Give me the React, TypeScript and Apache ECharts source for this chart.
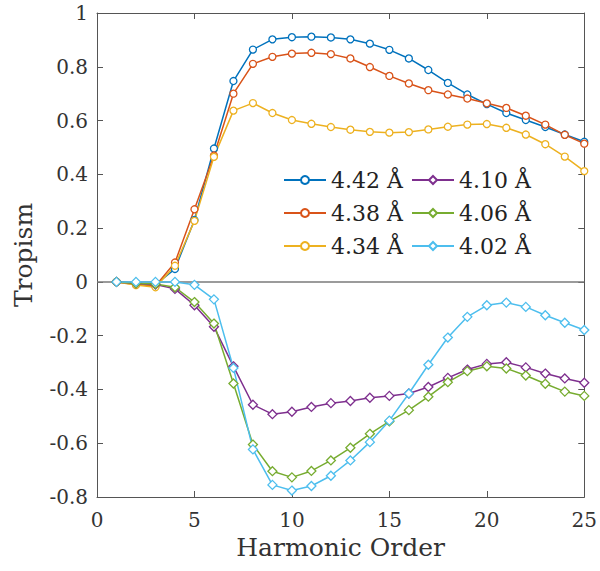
import React, { useEffect, useRef } from "react";
import * as echarts from "echarts";

const harmonicOrder = [1,2,3,4,5,6,7,8,9,10,11,12,13,14,15,16,17,18,19,20,21,22,23,24,25];

const s442 = [0, -0.005, -0.01, 0.048, 0.23, 0.496, 0.747, 0.864, 0.902, 0.91, 0.912, 0.909, 0.902, 0.886, 0.863, 0.831, 0.788, 0.74, 0.697, 0.661, 0.628, 0.602, 0.576, 0.548, 0.521];
const s438 = [0, -0.01, -0.015, 0.072, 0.27, 0.47, 0.70, 0.811, 0.837, 0.849, 0.852, 0.847, 0.831, 0.799, 0.766, 0.738, 0.713, 0.697, 0.682, 0.664, 0.647, 0.618, 0.585, 0.547, 0.514];
const s434 = [0, -0.012, -0.02, 0.06, 0.227, 0.465, 0.637, 0.665, 0.628, 0.602, 0.588, 0.576, 0.566, 0.558, 0.555, 0.557, 0.567, 0.577, 0.585, 0.587, 0.573, 0.548, 0.512, 0.466, 0.412];
const s410 = [0, -0.005, -0.01, -0.026, -0.087, -0.167, -0.314, -0.457, -0.492, -0.483, -0.465, -0.451, -0.443, -0.431, -0.424, -0.415, -0.391, -0.357, -0.326, -0.305, -0.299, -0.318, -0.341, -0.359, -0.375];
const s406 = [0, -0.005, -0.008, -0.02, -0.075, -0.155, -0.378, -0.605, -0.704, -0.727, -0.703, -0.664, -0.617, -0.565, -0.519, -0.477, -0.427, -0.373, -0.332, -0.314, -0.322, -0.348, -0.379, -0.408, -0.424];
const s402 = [0, 0, 0, 0, -0.011, -0.065, -0.32, -0.623, -0.755, -0.776, -0.759, -0.721, -0.664, -0.596, -0.516, -0.415, -0.308, -0.207, -0.13, -0.087, -0.077, -0.093, -0.124, -0.152, -0.179];

const seriesNames = ["4.42 Å", "4.38 Å", "4.34 Å", "4.10 Å", "4.06 Å", "4.02 Å"];
const seriesValues = [s442, s438, s434, s410, s406, s402];
const seriesColors = ["#0072BD", "#D95319", "#EDB120", "#7E2F8E", "#77AC30", "#4DBEEE"];
const seriesSymbols = ["circle", "circle", "circle", "diamond", "diamond", "diamond"];

const FONT = "DejaVu Serif";

export default function App() {
  const ref = useRef<HTMLDivElement>(null);
  useEffect(() => {
    if (!ref.current) return;
    const chart = echarts.init(ref.current, null, { renderer: "svg" });
    const axisLine = { show: true, onZero: false, lineStyle: { color: "#555", width: 1 } };
    const axisTick = { show: true, inside: true, length: 6, lineStyle: { color: "#555" } };
    const yFmt = (v: number) => String(Math.round(v * 10) / 10);
    const series: any[] = seriesNames.map((name, i) => ({
      name,
      type: "line",
      data: harmonicOrder.map((x, j) => [x, seriesValues[i][j]]),
      symbol: seriesSymbols[i],
      symbolSize: seriesSymbols[i] === "circle" ? 7 : 9,
      showAllSymbol: true,
      itemStyle: { color: "#fff", borderColor: seriesColors[i], borderWidth: 1.3 },
      lineStyle: { color: seriesColors[i], width: 1.5 },
      color: seriesColors[i],
      z: 3,
    }));
    series.push({
      name: "zero",
      type: "line",
      data: [[0, 0], [25, 0]],
      symbol: "none",
      lineStyle: { color: "#7a7a7a", width: 1.5 },
      z: 2,
      silent: true,
    });
    const legendText = { fontFamily: FONT, fontSize: 22, color: "#222" };
    const legendCommon = {
      orient: "vertical",
      top: 164,
      itemWidth: 42,
      itemHeight: 10,
      itemGap: 11,
      textStyle: legendText,
    };
    chart.setOption({
      animation: false,
      backgroundColor: "#fff",
      textStyle: { fontFamily: FONT },
      grid: { left: 97, right: 12, top: 13, bottom: 74 },
      legend: [
        { ...legendCommon, data: seriesNames.slice(0, 3), left: 278 },
        { ...legendCommon, data: seriesNames.slice(3), left: 406 },
      ],
      xAxis: [
        {
          type: "value",
          min: 0,
          max: 25,
          interval: 5,
          position: "bottom",
          name: "Harmonic Order",
          nameLocation: "middle",
          nameGap: 38,
          nameTextStyle: { fontFamily: FONT, fontSize: 25, color: "#333" },
          axisLine,
          axisTick,
          axisLabel: { fontFamily: FONT, fontSize: 20, color: "#333", margin: 13 },
          splitLine: { show: false },
        },
        {
          type: "value",
          min: 0,
          max: 25,
          interval: 5,
          position: "top",
          axisLine,
          axisTick,
          axisLabel: { show: false },
          splitLine: { show: false },
        },
      ],
      yAxis: [
        {
          type: "value",
          min: -0.8,
          max: 1,
          interval: 0.2,
          position: "left",
          name: "Tropism",
          nameLocation: "middle",
          nameGap: 61,
          nameTextStyle: { fontFamily: FONT, fontSize: 25, color: "#333" },
          axisLine,
          axisTick,
          axisLabel: { fontFamily: FONT, fontSize: 20, color: "#333", margin: 9, formatter: yFmt },
          splitLine: { show: false },
        },
        {
          type: "value",
          min: -0.8,
          max: 1,
          interval: 0.2,
          position: "right",
          axisLine,
          axisTick,
          axisLabel: { show: false },
          splitLine: { show: false },
        },
      ],
      series,
    });
    return () => chart.dispose();
  }, []);
  return <div ref={ref} style={{ width: 600, height: 571, position: "absolute", left: 0, top: 0 }} />;
}
